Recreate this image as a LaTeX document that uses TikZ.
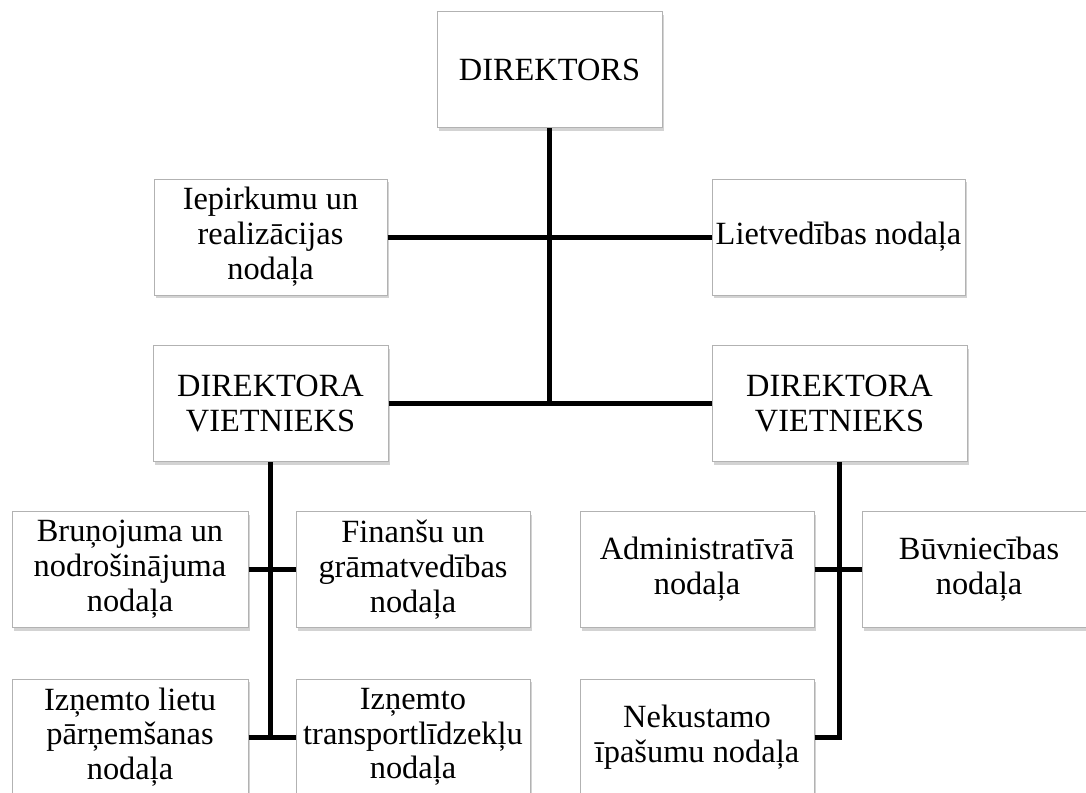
\documentclass[tikz,border=0pt]{standalone}
\usepackage{fontspec}
\setmainfont{Liberation Serif}
\usetikzlibrary{shadows}

\tikzset{
  unit/.style={draw=gray!60, line width=0.5pt, fill=white, align=center,
    inner sep=0pt, minimum height=58pt,
    font=\fontsize{16.2}{17.4}\selectfont,
    drop shadow={shadow xshift=0.8pt, shadow yshift=-1.5pt, opacity=0.35, fill=gray}},
  link/.style={line width=2.5pt}
}

\begin{document}
\begin{tikzpicture}[x=0.5pt, y=-0.5pt]
\useasboundingbox (0,0) rectangle (1086,792);

% top level
\node[unit, minimum width=112.5pt] (dir) at (549.5,70) {DIREKTORS};
\node[unit, minimum width=116.5pt] (iep) at (270.5,237) {Iepirkumu un\\realizācijas\\nodaļa};
\node[unit, minimum width=126.5pt] (liet) at (838.5,237) {Lietvedības nodaļa};

% deputies
\node[unit, minimum width=117.5pt] (vl) at (270.5,403.5) {DIREKTORA\\VIETNIEKS};
\node[unit, minimum width=127.5pt] (vr) at (839.5,403.5) {DIREKTORA\\VIETNIEKS};

% left branch
\node[unit, minimum width=118pt] (brun) at (130,569.5) {Bruņojuma un\\nodrošinājuma\\nodaļa};
\node[unit, minimum width=117pt] (fin) at (413,569.5) {Finanšu un\\grāmatvedības\\nodaļa};
\node[unit, minimum width=118pt] (izl) at (130,737) {Izņemto lietu\\pārņemšanas\\nodaļa};
\node[unit, minimum width=117pt] (izt) at (413,737) {Izņemto\\transportlīdzekļu\\nodaļa};

% right branch
\node[unit, minimum width=117pt] (adm) at (697,569.5) {Administratīvā\\nodaļa};
\node[unit, minimum width=117pt] (buv) at (979,569.5) {Būvniecības\\nodaļa};
\node[unit, minimum width=117pt] (nek) at (697,737) {Nekustamo\\īpašumu nodaļa};

% connectors
\draw[link] (dir.south) -- (dir.south |- vl.east);
\draw[link] (iep.east) -- (liet.west);
\draw[link] (vl.east) -- (vr.west);

\draw[link] (vl.south) -- (vl.south |- izl.east);
\draw[link] (brun.east) -- (fin.west);
\draw[link] (izl.east) -- (izt.west);

\draw[link] (nek.east) -| (vr.south);
\draw[link] (adm.east) -- (buv.west);

\end{tikzpicture}
\end{document}
